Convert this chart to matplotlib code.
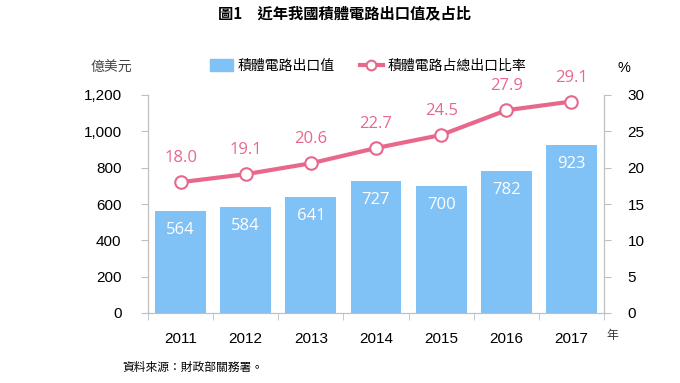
import matplotlib
matplotlib.use("Agg")
import matplotlib.pyplot as plt
from matplotlib.lines import Line2D
from matplotlib.patches import Patch

plt.rcParams['font.family'] = ['Noto Sans CJK TC', 'DejaVu Sans']
NUM_FONT = ['Liberation Sans', 'DejaVu Sans']
LABEL_FONT = ['Open Sans', 'DejaVu Sans']

years = ['2011', '2012', '2013', '2014', '2015', '2016', '2017']
export_value = [564, 584, 641, 727, 700, 782, 923]
share_pct = [18.0, 19.1, 20.6, 22.7, 24.5, 27.9, 29.1]
left_ticks = [0, 200, 400, 600, 800, 1000, 1200]
right_ticks = [0, 5, 10, 15, 20, 25, 30]

bar_color = '#80C1F6'
line_color = '#E8688C'
spine_color = '#BFBFBF'

fig = plt.figure(figsize=(6.8, 3.83), dpi=100)
ax = fig.add_axes([148/680, 1-313/383, (604-148)/680, (313-95)/383])
ax2 = ax.twinx()

x = list(range(len(years)))
ax.bar(x, export_value, width=0.78, color=bar_color, zorder=2)
for xi, v in zip(x, export_value):
    ax.text(xi, v - 105, f'{v}', ha='center', va='center', color='white',
            fontsize=12, family=LABEL_FONT)

ax.set_xlim(-0.5, len(years) - 0.5)
ax.set_ylim(0, 1200)
ax.set_yticks(left_ticks)
ax.set_yticklabels([f'{t:,}' for t in left_ticks], fontsize=11, family=NUM_FONT)
ax.set_xticks(x)
ax.set_xticklabels(years, fontsize=11, family=NUM_FONT)
ax.tick_params(axis='x', length=0, pad=14)
ax.set_xticks([i + 0.5 for i in range(-1, len(years))], minor=True)
ax.tick_params(axis='x', which='minor', length=5, color=spine_color)
ax.tick_params(axis='y', length=5, color=spine_color, pad=14)

ax2.plot(x, share_pct, color=line_color, lw=3, marker='o', ms=9,
         mfc='white', mec=line_color, mew=1.5, zorder=3)
for xi, v in zip(x, share_pct):
    ax2.text(xi, v + 3.3, f'{v:.1f}', ha='center', va='center', color=line_color,
             fontsize=12, family=LABEL_FONT)
ax2.set_ylim(0, 30)
ax2.set_yticks(right_ticks)
ax2.set_yticklabels([str(t) for t in right_ticks], fontsize=11, family=NUM_FONT)
ax2.tick_params(axis='y', length=5, color=spine_color, pad=12)

for a in (ax, ax2):
    a.spines['top'].set_visible(False)
    for s in ('left', 'right', 'bottom'):
        a.spines[s].set_color(spine_color)

handles = [Patch(color=bar_color, label='積體電路出口值'),
           Line2D([0], [0], color=line_color, lw=3, marker='o', ms=7,
                  mfc='white', mec=line_color, mew=1.5, label='積體電路占總出口比率')]
fig.legend(handles=handles, loc='center', bbox_to_anchor=(368/680, 1-66/383), ncol=2,
           frameon=False, prop={'size': 10, 'weight': 'medium'}, handlelength=1.7,
           handleheight=1.0, columnspacing=1.8, handletextpad=0.3)

fig.text(111/680, 1-68/383, '億美元', ha='center', va='center', fontsize=10, color='#444444')
fig.text(624/680, 1-68/383, '%', ha='center', va='center', fontsize=10.5, family=NUM_FONT)
fig.text(612/680, 1-336/383, '年', ha='center', va='center', fontsize=8.5, color='#333333')
fig.text(344/680, 1-13/383, '圖1　近年我國積體電路出口值及占比', ha='center', va='center',
         fontsize=11, fontweight='bold')
fig.text(122/680, 1-367/383, '資料來源：財政部關務署。', ha='left', va='center', fontsize=8.5)

fig.savefig('out.png', dpi=100)
